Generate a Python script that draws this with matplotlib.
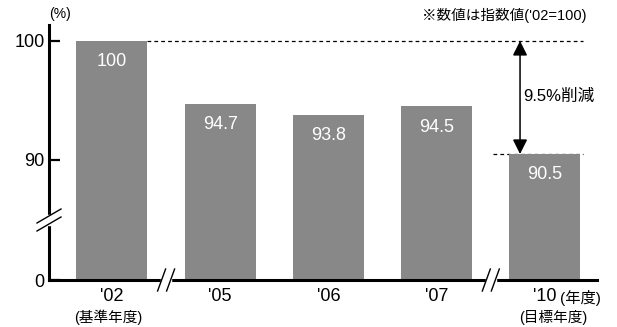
import numpy as np
import matplotlib
matplotlib.use("Agg")
import matplotlib.pyplot as plt
import matplotlib.transforms as mtransforms
from matplotlib.lines import Line2D
from matplotlib.patches import Rectangle

plt.rcParams['font.family'] = ['Liberation Sans', 'Noto Sans CJK JP', 'DejaVu Sans']

# data
years = ["'02", "'05", "'06", "'07", "'10"]
sub_labels = ["(基準年度)", "", "", "", "(目標年度)"]
values = [100, 94.7, 93.8, 94.5, 90.5]
value_labels = ["100", "94.7", "93.8", "94.5", "90.5"]
ytick_vals = [0, 90, 100]
reduction_text = "9.5%削減"
note_text = "※数値は指数値('02=100)"

BAR_COLOR = "#888888"


# broken y scale: 90..100 linear, 0..90 squashed
def fwd(v):
    v = np.asarray(v, dtype=float)
    return np.where(v >= 90, v, 90 - (90 - v) * 0.112)


def inv(v):
    v = np.asarray(v, dtype=float)
    return np.where(v >= 90, v, 90 - (90 - v) / 0.112)


fig = plt.figure(figsize=(6.17, 3.27), dpi=100)
ax = fig.add_axes([0.0794, 0.1437, 0.888, 0.78])
ax.set_yscale('function', functions=(fwd, inv))

x = np.arange(len(values))
bw = 0.656
ax.bar(x, values, width=bw, color=BAR_COLOR, zorder=2)
ax.set_xlim(-0.582, 4.48)
ax.set_ylim(0, 101.34)

# value labels inside bars
for xi, v, lab in zip(x, values, value_labels):
    ax.annotate(lab, xy=(xi, v), xytext=(0, -15), textcoords="offset points",
                ha="center", va="center", color="white", fontsize=13, zorder=3)

# axes styling
for s in ["top", "right"]:
    ax.spines[s].set_visible(False)
ax.spines["left"].set_linewidth(2.2)
ax.spines["bottom"].set_linewidth(2.2)
ax.set_yticks(ytick_vals)
ax.set_yticklabels([str(t) for t in ytick_vals])
ax.yaxis.set_minor_locator(matplotlib.ticker.NullLocator())
ax.tick_params(axis="y", direction="in", length=8, width=1.6, pad=3, labelsize=13)
ax.set_xticks(x)
ax.set_xticklabels(years)
ax.tick_params(axis="x", length=0, pad=6, labelsize=13)

# sub labels under x ticks
tb = mtransforms.blended_transform_factory(ax.transData, ax.transAxes)
for xi, s in zip(x, sub_labels):
    if s:
        ax.annotate(s, xy=(xi, 0), xycoords=tb, xytext=(6 if xi == 4 else -3, -27),
                    textcoords="offset points", ha="center", va="center",
                    fontsize=10.5, annotation_clip=False)
ax.annotate("(年度)", xy=(x[-1], 0), xycoords=tb, xytext=(11, -13),
            textcoords="offset points", ha="left", va="center", fontsize=11,
            annotation_clip=False)

# dashed reference lines
ax.plot([x[0] + bw / 2, 4.35], [values[0], values[0]], ls=(0, (3, 2.5)), lw=0.9, color="black", zorder=1)
ax.plot([x[-1] - bw / 2 - 0.15, 4.35], [values[-1], values[-1]], ls=(0, (3, 2.5)), lw=0.9, color="black", zorder=1)

# reduction arrow
ax_x = x[-1] - 0.23
ax.annotate("", xy=(ax_x, values[-1]), xytext=(ax_x, values[0]),
            arrowprops=dict(arrowstyle="<|-|>", color="black", lw=1.1, mutation_scale=22,
                            shrinkA=0, shrinkB=0))
ax.text(ax_x + 0.03, (values[0] + values[-1]) / 2 + 0.05, reduction_text, ha="left",
        va="center", fontsize=12)

# top texts
fig.text(0.097, 0.958, "(%)", ha="center", va="center", fontsize=10)
fig.text(0.95, 0.952, note_text, ha="right", va="center", fontsize=10.5)


# break marks
def draw_break(px, py, dx, dy, off, vertical_axis):
    r = 5
    if vertical_axis:
        fig.add_artist(Rectangle((px - 3, py - r), 6, 2 * r, transform=None, color="white", zorder=5))
    else:
        fig.add_artist(Rectangle((px - r, py - 3), 2 * r, 6, transform=None, color="white", zorder=5))
    for s in (-1, 1):
        ox, oy = off[0] * s / 2, off[1] * s / 2
        fig.add_artist(Line2D([px + ox - dx, px + ox + dx], [py + oy - dy, py + oy + dy],
                              transform=None, color="black", lw=1.0, zorder=6))


fig.canvas.draw()
bb = ax.get_window_extent()
# y axis break
py = ax.transData.transform((0, 45))[1]
draw_break(bb.x0, py, 12, 7, (0, 8), True)
# x axis breaks
for xb in (0.5, 3.5):
    px = ax.transData.transform((xb, 0))[0]
    draw_break(px, bb.y0, 4, 11, (9, 0), False)

fig.savefig("out.png", dpi=100)
